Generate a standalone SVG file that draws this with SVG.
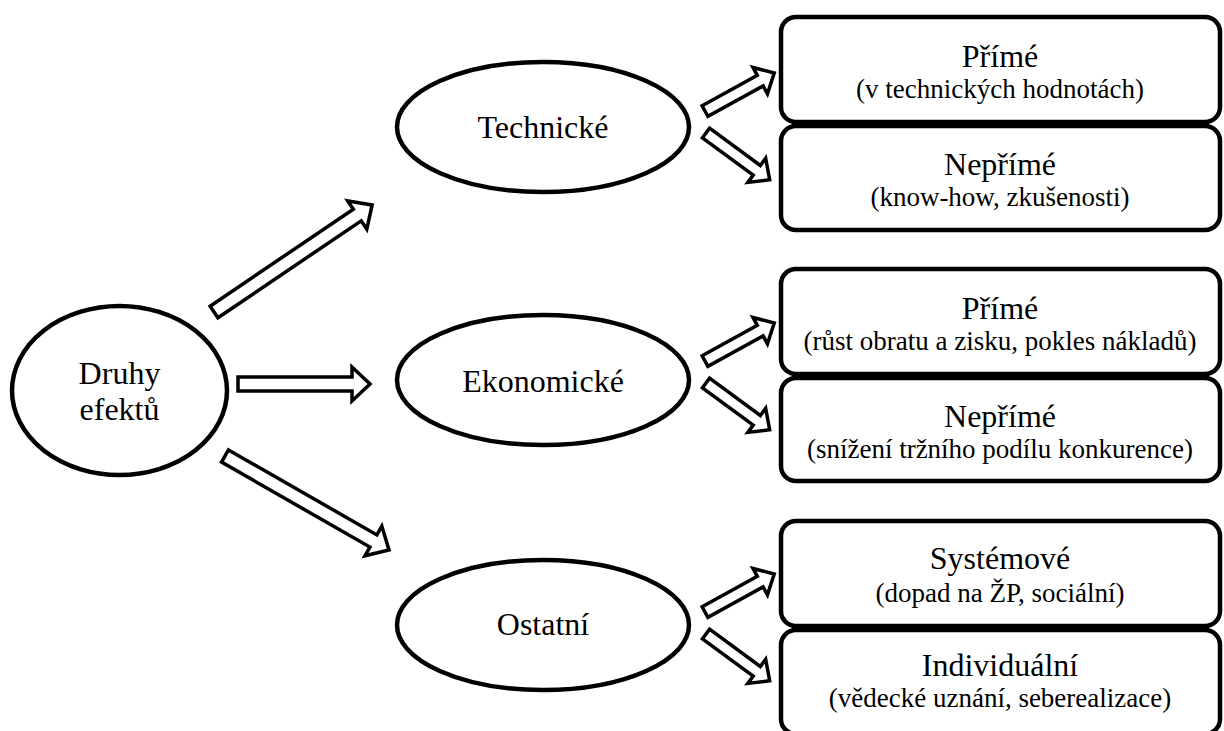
<svg xmlns="http://www.w3.org/2000/svg" width="1224" height="731" viewBox="0 0 1224 731">
  <style>
    .node { fill: #ffffff; stroke: #000000; stroke-width: 4.5; }
    .arrow { fill: #ffffff; stroke: #000000; stroke-width: 3.5; stroke-linejoin: miter; }
    .label { font-family: "Liberation Serif", "Times New Roman", serif; fill: #000000; text-anchor: middle; }
    .main { font-size: 32px; }
    .sub { font-size: 27px; }
  </style>
  <defs>
    <!-- small hollow block arrow, pointing along +x from its tail -->
    <path id="smallArrow" class="arrow" d="M0,-6 L63,-6 L63,-15 L79,0 L63,15 L63,6 L0,6 Z"/>
  </defs>
  <rect width="1224" height="731" fill="#ffffff"/>

  <!-- connectors: hollow block arrows rotated into place -->
  <g id="connectors">
    <path class="arrow" transform="translate(214,312) rotate(-34.1)" d="M0,-7 L173,-7 L173,-17 L191,0 L173,17 L173,7 L0,7 Z"/>
    <path class="arrow" transform="translate(238,384)" d="M0,-7 L114,-7 L114,-17 L132,0 L114,17 L114,7 L0,7 Z"/>
    <path class="arrow" transform="translate(225,456) rotate(29.8)" d="M0,-7 L171,-7 L171,-17 L189,0 L171,17 L171,7 L0,7 Z"/>

    <use href="#smallArrow" transform="translate(705,111) rotate(-28.8)"/>
    <use href="#smallArrow" transform="translate(706,133) rotate(36.3)"/>
    <use href="#smallArrow" transform="translate(705,361) rotate(-28.8)"/>
    <use href="#smallArrow" transform="translate(706,383) rotate(36.3)"/>
    <use href="#smallArrow" transform="translate(705,612) rotate(-28.8)"/>
    <use href="#smallArrow" transform="translate(706,634) rotate(36.3)"/>
  </g>

  <g id="druhy-efektu">
    <ellipse class="node" cx="119.5" cy="390.5" rx="107.5" ry="84.5"/>
    <text class="label main" x="119.5" y="384">Druhy</text>
    <text class="label main" x="119.5" y="420">efektů</text>
  </g>

  <g id="technicke">
    <ellipse class="node" cx="543" cy="127" rx="146" ry="65"/>
    <text class="label main" x="543" y="138">Technické</text>
  </g>
  <g id="ekonomicke">
    <ellipse class="node" cx="543" cy="380" rx="146" ry="65"/>
    <text class="label main" x="543" y="392">Ekonomické</text>
  </g>
  <g id="ostatni">
    <ellipse class="node" cx="543" cy="625" rx="146" ry="65"/>
    <text class="label main" x="543" y="635">Ostatní</text>
  </g>

  <g id="tech-prime">
    <rect class="node" x="781" y="17" width="439" height="105" rx="15"/>
    <text class="label main" x="1000" y="67">Přímé</text>
    <text class="label sub" x="1000" y="98">(v technických hodnotách)</text>
  </g>
  <g id="tech-neprime">
    <rect class="node" x="781" y="126" width="439" height="104" rx="15"/>
    <text class="label main" x="1000" y="175">Nepřímé</text>
    <text class="label sub" x="1000" y="206">(know-how, zkušenosti)</text>
  </g>

  <g id="ekon-prime">
    <rect class="node" x="781" y="269" width="439" height="105" rx="15"/>
    <text class="label main" x="1000" y="319">Přímé</text>
    <text class="label sub" x="1000" y="350">(růst obratu a zisku, pokles nákladů)</text>
  </g>
  <g id="ekon-neprime">
    <rect class="node" x="781" y="378" width="439" height="103" rx="15"/>
    <text class="label main" x="1000" y="427">Nepřímé</text>
    <text class="label sub" x="1000" y="458">(snížení tržního podílu konkurence)</text>
  </g>

  <g id="ostatni-systemove">
    <rect class="node" x="781" y="521" width="439" height="105" rx="15"/>
    <text class="label main" x="1000" y="569">Systémové</text>
    <text class="label sub" x="1000" y="602">(dopad na ŽP, sociální)</text>
  </g>
  <g id="ostatni-individualni">
    <rect class="node" x="781" y="630" width="439" height="104" rx="15"/>
    <text class="label main" x="1000" y="676">Individuální</text>
    <text class="label sub" x="1000" y="707">(vědecké uznání, seberealizace)</text>
  </g>
</svg>
